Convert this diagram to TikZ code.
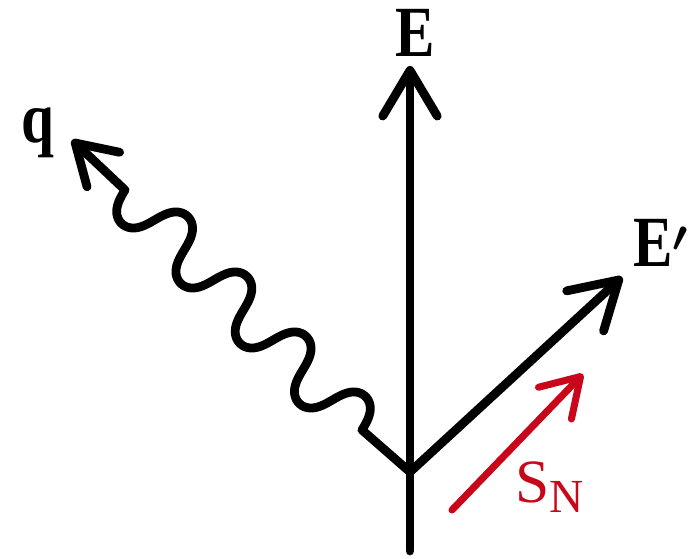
\documentclass[tikz,border=0pt]{standalone}
\usepackage{fontspec}
\setmainfont{Liberation Serif}
\newfontfamily\labelfont[FakeStretch=0.82]{Liberation Serif}
\usetikzlibrary{arrows.meta}
\definecolor{spinred}{RGB}{200,8,26}

\begin{document}
\begin{tikzpicture}[color=black,
  vec/.style={line width=5pt, line cap=round, line join=round,
    -{Straight Barb[length=26pt, width=31pt, round]}},
  lab/.style={inner sep=0pt, font=\fontsize{41}{44}\labelfont\bfseries\boldmath}]
  \useasboundingbox (0,0) rectangle (13.86,11.18);
  % Vertex and end points
  \coordinate (vtx) at (8.20,1.74);
  \coordinate (bot) at (8.20,0.16);
  \coordinate (Etip) at (8.20,9.86);
  \coordinate (Eptip) at (12.44,5.64);
  \coordinate (qtip) at (1.44,8.38);
  \coordinate (w1) at (2.50,7.38);
  \coordinate (w2) at (7.24,2.58);
  \coordinate (Sstart) at (9.04,0.98);
  \coordinate (Stip) at (11.66,3.70);
  % Labels
  \node[lab, anchor=base] (Elab) at (8.30,10.04) {E};
  \node[lab, anchor=base west] (Eplab) at (12.66,5.84) {E$'$};
  \node[lab, anchor=base] (qlab) at (0.76,8.32) {q};
  \node[inner sep=0pt, anchor=base west, text=spinred,
    font=\fontsize{35}{40}\selectfont] (SNlab) at (10.30,1.12)
    {S\raisebox{-5.5pt}{\fontsize{27}{30}\selectfont N}};
  % Vectors
  \draw[vec] (bot) -- (Etip);
  \draw[vec] (vtx) -- (Eptip);
  % Photon line: four round-lobed periods from w2 to w1
  \draw[vec, -{Straight Barb[length=22pt, width=27pt, round]}]
    (vtx) -- (w2)
    -- plot[domain=0:1, samples=201, smooth]
      ({7.24-4.74*\x+0.3700*sin(1440*\x)+0.0471*sin(2880*\x)},
       {2.58+4.80*\x+0.3654*sin(1440*\x)-0.0477*sin(2880*\x)})
    -- (w1) -- (qtip);
  \draw[vec, line width=4pt, spinred,
    -{Straight Barb[length=21pt, width=26pt, round]}] (Sstart) -- (Stip);
\end{tikzpicture}
\end{document}
